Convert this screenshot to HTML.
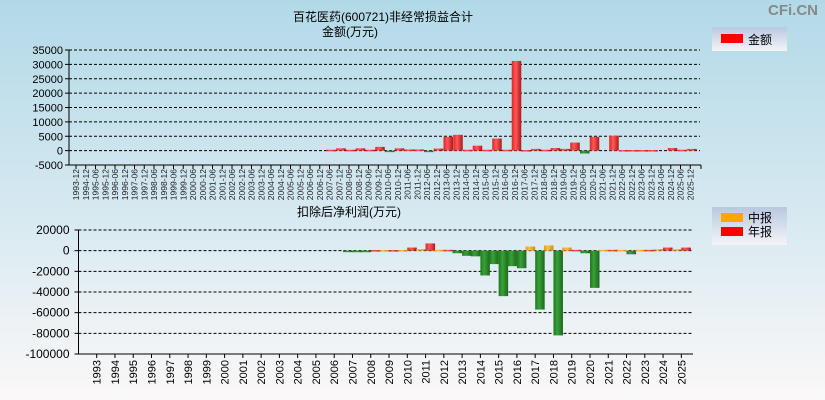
<!DOCTYPE html>
<html><head><meta charset="utf-8"><style>
html,body{margin:0;padding:0;width:825px;height:400px;overflow:hidden}
svg{display:block;font-family:"Liberation Sans","Noto Sans CJK SC",sans-serif}
</style></head><body>
<svg id="c" width="825" height="400" xmlns="http://www.w3.org/2000/svg">
<defs>
<linearGradient id="bg" x1="0" y1="0" x2="0" y2="1"><stop offset="0" stop-color="#b2d9e8"/><stop offset="0.5" stop-color="#d4e8f0"/><stop offset="1" stop-color="#fbf8f8"/></linearGradient>
<linearGradient id="red" x1="0" y1="0" x2="1" y2="0"><stop offset="0" stop-color="#e02020"/><stop offset="0.4" stop-color="#ff5a5a"/><stop offset="1" stop-color="#b01818"/></linearGradient>
<linearGradient id="grn" x1="0" y1="0" x2="1" y2="0"><stop offset="0" stop-color="#1e7a1e"/><stop offset="0.4" stop-color="#3aa03a"/><stop offset="1" stop-color="#1a6a1a"/></linearGradient>
<linearGradient id="org" x1="0" y1="0" x2="1" y2="0"><stop offset="0" stop-color="#e89a10"/><stop offset="0.4" stop-color="#ffc040"/><stop offset="1" stop-color="#d08a10"/></linearGradient>
<linearGradient id="lg" x1="0" y1="0" x2="0" y2="1"><stop offset="0" stop-color="#b8c8e0"/><stop offset="1" stop-color="#f4f4f8"/></linearGradient>
</defs>
<rect width="825" height="400" fill="url(#bg)"/>
<text x="818" y="15" text-anchor="end" font-size="15" fill="#888" font-weight="bold">CFi.CN</text>
<text x="383" y="21" text-anchor="middle" font-size="12">百花医药(600721)非经常损益合计</text>
<text x="322" y="36" font-size="12">金额(万元)</text>
<text x="297" y="216" font-size="12">扣除后净利润(万元)</text>
<g>
<rect x="712" y="27" width="75" height="24" fill="url(#lg)"/>
<rect x="721" y="34" width="22" height="9" fill="#f00"/>
<text x="748" y="44" font-size="12">金额</text>
</g>
<g>
<rect x="712" y="207" width="75" height="38" fill="url(#lg)"/>
<rect x="721" y="213" width="22" height="9" fill="#ffa500"/>
<text x="748" y="222" font-size="12">中报</text>
<rect x="721" y="227" width="22" height="9" fill="#f00"/>
<text x="748" y="236" font-size="12">年报</text>
</g>
<g id="top"></g>
<g id="bot"></g>
</svg>
<script>
const topCats=["1993-12","1994-12","1995-06","1995-12","1996-06","1996-12","1997-06","1997-12","1998-06","1998-12","1999-06","1999-12","2000-06","2000-12","2001-06","2001-12","2002-06","2002-12","2003-06","2003-12","2004-06","2004-12","2005-06","2005-12","2006-06","2006-12","2007-06","2007-12","2008-06","2008-12","2009-06","2009-12","2010-06","2010-12","2011-06","2011-12","2012-06","2012-12","2013-06","2013-12","2014-06","2014-12","2015-06","2015-12","2016-06","2016-12","2017-06","2017-12","2018-06","2018-12","2019-06","2019-12","2020-06","2020-12","2021-06","2021-12","2022-06","2022-12","2023-06","2023-12","2024-06","2024-12","2025-06","2025-12"];
const topVals=[null,null,null,null,null,null,null,null,null,null,null,null,null,null,null,null,null,null,null,null,null,null,null,null,null,null,300,800,300,800,300,1300,-300,800,400,400,-300,700,4800,5500,300,1700,300,4200,300,31200,200,600,300,900,600,2800,-1000,4800,0,5200,200,200,200,200,0,900,300,600];
const topTicks=[35000,30000,25000,20000,15000,10000,5000,0,-5000];
const years=["1993","1994","1995","1996","1997","1998","1999","2000","2001","2002","2003","2004","2005","2006","2007","2008","2009","2010","2011","2012","2013","2014","2015","2016","2017","2018","2019","2020","2021","2022","2023","2024","2025"];
const midVals=[null,null,null,null,null,null,null,null,null,null,null,null,null,null,-1000,-1500,500,500,1500,800,-2500,-5500,-13000,-15000,4000,5000,3000,-2500,800,800,800,1500,1500];
const annVals=[null,null,null,null,null,null,null,null,null,null,null,null,null,null,-1500,500,500,3000,7000,800,-5000,-24000,-44000,-17000,-57000,-82000,800,-36000,800,-3500,800,3000,3000];
const botTicks=[20000,0,-20000,-40000,-60000,-80000,-100000];
const NS="http://www.w3.org/2000/svg";
function mk(p,t,a,txt){const e=document.createElementNS(NS,t);for(const k in a)e.setAttribute(k,a[k]);if(txt!=null)e.textContent=txt;p.appendChild(e);return e;}
// top
const T=document.getElementById('top');
const tL=69,tR=700,tY0=50,tY1=165,tMax=35000,tMin=-5000;
const ty=v=>tY0+(tMax-v)/(tMax-tMin)*(tY1-tY0);
const tx=i=>76+i*9.75;
topTicks.forEach(v=>{const y=ty(v);
 if(v>tMin){const g=mk(T,'line',{x1:tL,x2:tR,y1:y,y2:y,stroke:'#000','stroke-dasharray':'3,2'});}
 mk(T,'line',{x1:tL-4,x2:tL,y1:y,y2:y,stroke:'#000'});
 const t=mk(T,'text',{x:tL-6,y:y+4,'text-anchor':'end','font-size':11},v);
 });
mk(T,'line',{x1:tL,x2:tL,y1:tY0,y2:tY1,stroke:'#000'});
mk(T,'line',{x1:tL,x2:tR+1,y1:tY1,y2:tY1,stroke:'#000'});
topCats.forEach((c,i)=>{const x=tx(i);
 mk(T,'line',{x1:x,x2:x,y1:tY1,y2:tY1+4,stroke:'#000'});
 const t=mk(T,'text',{transform:`translate(${x+3},${tY1+4}) rotate(-90)`,'text-anchor':'end','font-size':8.5,fill:'#222'},c);
 
 const v=topVals[i]; if(v==null||v===0)return;
 const y0=ty(0),y1=ty(v);
 const r=mk(T,'rect',{x:x-3,y:Math.min(y0,y1),width:9.5,height:Math.max(1.5,Math.abs(y1-y0)),fill:v>=0?'url(#red)':'url(#grn)'});
 });
mk(T,'line',{x1:tR+1,x2:tR+1,y1:tY1,y2:tY1+4,stroke:'#000'});
// bottom
const B=document.getElementById('bot');
const bL=78.5,bR=693,bY0=230,bY1=354,bMax=20000,bMin=-100000;
const by=v=>bY0+(bMax-v)/(bMax-bMin)*(bY1-bY0);
const bx=i=>96.7+i*18.27;
botTicks.forEach(v=>{const y=by(v);
 if(v>bMin){const g=mk(B,'line',{x1:bL,x2:bR,y1:y,y2:y,stroke:'#000','stroke-dasharray':'3,2'});}
 mk(B,'line',{x1:bL-4,x2:bL,y1:y,y2:y,stroke:'#000'});
 const t=mk(B,'text',{x:bL-9,y:y+4,'text-anchor':'end','font-size':12},v);
 });
mk(B,'line',{x1:bL,x2:bL,y1:bY0,y2:bY1,stroke:'#000'});
mk(B,'line',{x1:bL,x2:bR,y1:bY1,y2:bY1,stroke:'#000'});
years.forEach((yr,i)=>{const x=bx(i);
 mk(B,'line',{x1:x,x2:x,y1:bY1,y2:bY1+4,stroke:'#000'});
 const t=mk(B,'text',{transform:`translate(${x+4},${bY1+6}) rotate(-90)`,'text-anchor':'end','font-size':11},yr);
 
 [[midVals[i],x-9.5,'url(#org)','mid-report-bar'],[annVals[i],x,'url(#red)','annual-report-bar']].forEach(([v,xx,f,n])=>{
  if(v==null)return;const y0=by(0),y1=by(v);
  const r=mk(B,'rect',{x:xx,y:Math.min(y0,y1),width:9.5,height:Math.max(1.5,Math.abs(y1-y0)),fill:v>=0?f:'url(#grn)'});
  });});
</script>
</body></html>
